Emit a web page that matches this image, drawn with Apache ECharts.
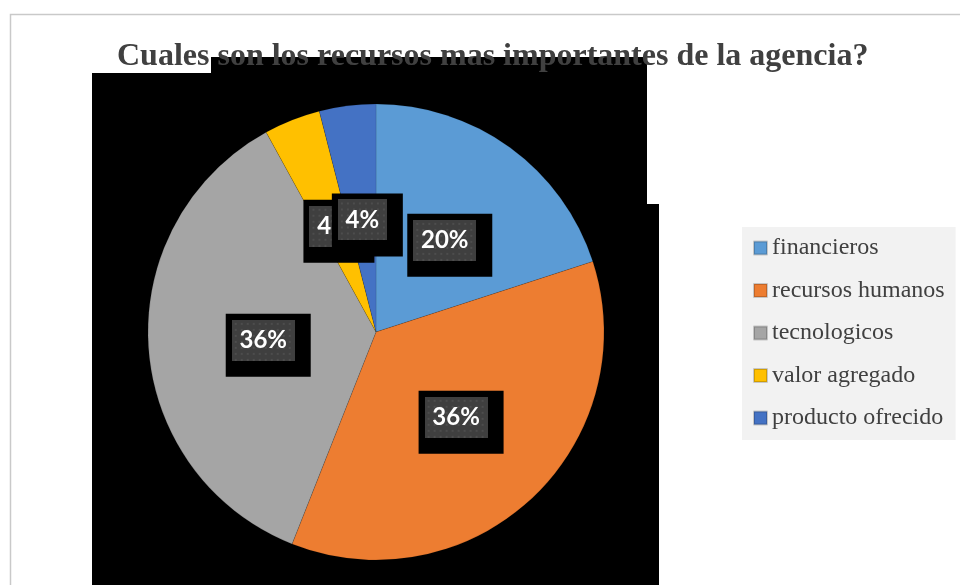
<!DOCTYPE html>
<html>
<head>
<meta charset="utf-8">
<script src="https://cdn.jsdelivr.net/npm/echarts@6/dist/echarts.min.js"></script>
<style>
  html, body { margin: 0; padding: 0; background: #ffffff; }
  #chart { width: 960px; height: 585px; }
</style>
</head>
<body>
<div id="chart"></div>
<script>
// Survey answers: share of responses per resource type (percent)
const categories = ['financieros', 'recursos humanos', 'tecnologicos', 'valor agregado', 'producto ofrecido'];
const shares = [20, 36, 36, 4, 4];
const sliceColors = ['#5b9bd5', '#ed7d31', '#a5a5a5', '#ffc000', '#4472c4'];
// Label nudges (px) so the grey face of each label sits on its slice
const labelOffsets = [[5, 8], [5, 5], [9, 6], [6, 8], [6, 9]];

const chart = echarts.init(document.getElementById('chart'), null, { renderer: 'canvas' });

// Dark, faintly dotted fill for the label faces
function dottedFace(w, h) {
  const c = document.createElement('canvas');
  c.width = w;
  c.height = h;
  const ctx = c.getContext('2d');
  ctx.fillStyle = '#3f3f3f';
  ctx.fillRect(0, 0, w, h);
  ctx.fillStyle = '#4d4d4d';
  for (let y = 3; y < h - 1; y += 6) {
    for (let x = 3; x < w - 1; x += 6) {
      ctx.fillRect(x, y, 2, 2);
    }
  }
  return c;
}

const pieData = categories.map((name, i) => ({
  name: name,
  value: shares[i],
  itemStyle: { color: sliceColors[i] },
  label: { offset: labelOffsets[i] }
}));

const faceStyle = {
  fontFamily: 'Lato, "Open Sans", sans-serif',
  fontWeight: 'bold',
  fontSize: 24,
  height: 41,
  lineHeight: 41,
  align: 'center',
  verticalAlign: 'middle',
  color: '#ffffff'
};

chart.setOption({
  animation: false,
  backgroundColor: '#ffffff',
  title: {
    text: 'Cuales son los recursos mas importantes de la agencia?',
    left: 112,
    top: 36,
    z: 10,
    textStyle: {
      fontFamily: '"Liberation Serif", "Times New Roman", serif',
      fontWeight: 'bold',
      fontSize: 32,
      color: '#404040'
    }
  },
  legend: {
    orient: 'vertical',
    left: 742,
    top: 227,
    backgroundColor: '#f2f2f2',
    padding: [9, 11, 10, 11],
    itemWidth: 13,
    itemHeight: 13,
    itemGap: 18.5,
    icon: 'rect',
    selectedMode: false,
    textStyle: {
      fontFamily: '"Liberation Serif", "Times New Roman", serif',
      fontSize: 24,
      lineHeight: 24,
      color: '#404040'
    },
    data: categories
  },
  graphic: [
    {
      type: 'rect',
      z: 0,
      silent: true,
      shape: { x: 10.5, y: 14.5, width: 1000, height: 700 },
      style: { fill: 'none', stroke: '#c9c9c9', lineWidth: 1.5 }
    },
    {
      type: 'polygon',
      z: 1,
      silent: true,
      shape: {
        points: [[211, 57], [647, 57], [647, 204], [659, 204], [659, 585], [92, 585], [92, 73], [211, 73]]
      },
      style: { fill: '#000000' }
    }
  ],
  series: [
    {
      type: 'pie',
      z: 3,
      center: [376, 332],
      radius: 228,
      startAngle: 90,
      clockwise: true,
      avoidLabelOverlap: false,
      labelLayout: { hideOverlap: false },
      emphasis: { disabled: true },
      itemStyle: { borderColor: 'rgba(0,0,0,0.18)', borderWidth: 0.6 },
      label: {
        show: true,
        position: 'inside',
        formatter: (p) => (String(p.value).length > 1 ? '{w|' : '{n|') + p.value + '%}',
        backgroundColor: '#000000',
        padding: [6, 16, 16, 6],
        rich: {
          w: Object.assign({ width: 63, backgroundColor: { image: dottedFace(63, 41) } }, faceStyle),
          n: Object.assign({ width: 49, backgroundColor: { image: dottedFace(49, 41) } }, faceStyle)
        }
      },
      labelLine: { show: false },
      data: pieData
    }
  ]
});
</script>
</body>
</html>
